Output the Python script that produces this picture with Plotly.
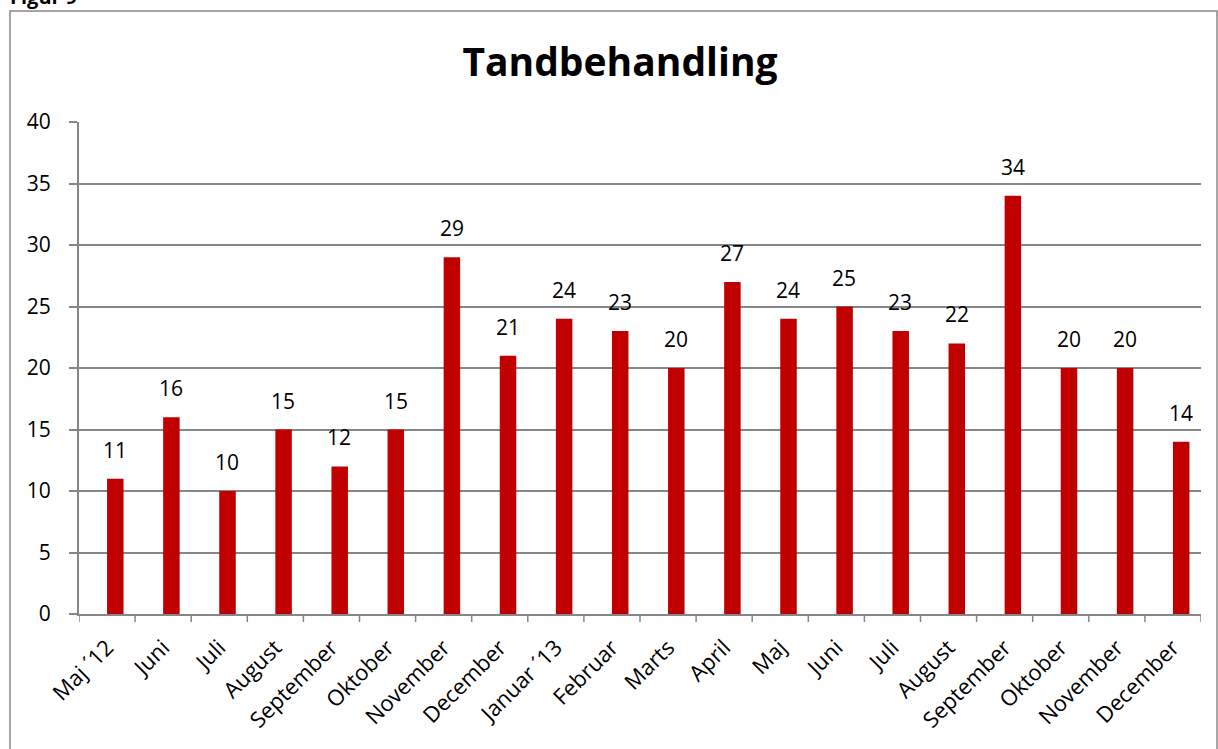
import plotly.graph_objects as go

months = ["Maj ´12", "Juni", "Juli", "August", "September", "Oktober", "November",
          "December", "Januar ´13", "Februar", "Marts", "April", "Maj", "Juni",
          "Juli", "August", "September", "Oktober", "November", "December"]
values = [11, 16, 10, 15, 12, 15, 29, 21, 24, 23, 20, 27, 24, 25, 23, 22, 34, 20, 20, 14]

W, H = 1218, 749
L, R, T, B = 79, 17, 122, 135
pw, ph = W - L - R, H - T - B

def px(x):
    return (x - L) / pw

def py(y):
    return (H - B - y) / ph

xs = list(range(len(months)))
cat_px = pw / len(months)
bar_w = 16.5 / cat_px

fig = go.Figure(go.Bar(
    x=xs, y=values,
    width=bar_w, offset=0,
    marker=dict(color="#C00000", line=dict(width=0)),
    cliponaxis=False,
    hoverinfo="skip",
))

label_annotations = [
    dict(x=x, y=v, xref="x", yref="y", text=str(v), showarrow=False,
         xanchor="center", yanchor="bottom", yshift=13, xshift=8,
         font=dict(family="Open Sans", size=21, color="#000000"))
    for x, v in zip(xs, values)
]

fig.update_layout(
    width=W, height=H,
    margin=dict(l=L, r=R, t=T, b=B),
    paper_bgcolor="white", plot_bgcolor="white",
    showlegend=False,
    font=dict(family="Open Sans", color="#000000"),
    title=dict(text="<b>Tandbehandling</b>", x=px(620), xref="paper", xanchor="center",
               y=1 - 62 / H, yanchor="middle", font=dict(family="Open Sans", size=39)),
    xaxis=dict(
        tickmode="array", tickvals=xs, ticktext=months,
        tickangle=-45, tickfont=dict(family="Open Sans", size=22),
        ticklabelstandoff=10,
        range=[-0.5, len(months) - 0.5],
        showline=True, linecolor="#868686", linewidth=2,
        showgrid=False, ticks="", zeroline=False,
    ),
    yaxis=dict(
        range=[0, 40], dtick=5, tickfont=dict(family="Open Sans", size=21),
        ticklabelstandoff=14,
        showline=True, linecolor="#868686", linewidth=2,
        showgrid=True, gridcolor="#868686", gridwidth=1.5,
        ticks="outside", ticklen=8, tickcolor="#868686", tickwidth=1.5,
        zeroline=False,
    ),
    shapes=[
        dict(type="rect", xref="paper", yref="paper",
             x0=px(10), x1=px(1217), y0=py(760), y1=py(11),
             line=dict(color="#888888", width=1.5), fillcolor="rgba(0,0,0,0)", layer="below"),
    ] + [
        dict(type="line", xref="x", yref="paper", x0=i - 0.5, x1=i - 0.5,
             y0=0, y1=-8 / ph, line=dict(color="#868686", width=1.5))
        for i in range(len(months) + 1)
    ],
    annotations=label_annotations + [
        dict(text="<b>Figur 9</b>", xref="paper", yref="paper", x=px(8), y=py(-4),
             xanchor="left", yanchor="middle", showarrow=False,
             font=dict(family="Open Sans", size=20)),
    ],
)

fig.write_html("out.html", config={"displayModeBar": False},
               post_script="document.body.style.margin='0';document.body.style.overflow='hidden';")
